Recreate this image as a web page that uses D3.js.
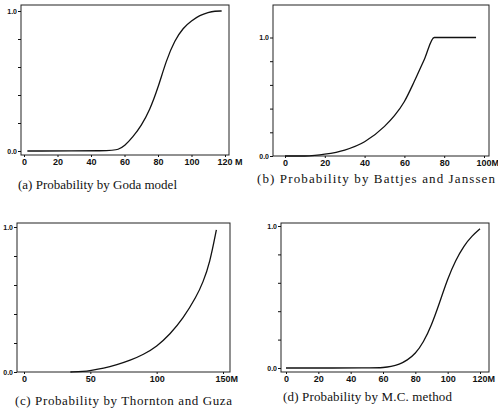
<!DOCTYPE html>
<html>
<head>
<meta charset="utf-8">
<script src="https://cdn.jsdelivr.net/npm/d3@7"></script>
<style>
  body { margin: 0; background: #fff; }
  svg { display: block; }
  .tick text { font-family: "Liberation Sans", Arial, sans-serif; font-weight: bold; fill: #111; }
  .tick line { stroke: #111; }
  .caption { font-family: "Liberation Serif", "Times New Roman", serif; font-size: 13px; fill: #111; }
</style>
</head>
<body>
<div id="chart"></div>
<script>

// (a) Goda model
var goda_h = [2, 53, 56, 60, 65, 70, 75, 80, 85, 90, 95, 100, 105, 110, 114, 118];
var goda_p = [0, 0, 0.01, 0.035, 0.1, 0.18, 0.29, 0.45, 0.65, 0.79, 0.88, 0.93, 0.97, 0.99, 1.0, 1.0];
var goda_ticks = [0, 20, 40, 60, 80, 100, 120];

// (b) Battjes and Janssen
var bj_h = [0, 10, 15, 20, 30, 40, 50, 55, 60, 65, 70, 75, 96];
var bj_p = [0, 0, 0.005, 0.015, 0.05, 0.12, 0.25, 0.34, 0.46, 0.63, 0.815, 1.0, 1.0];
var bj_ticks = [0, 20, 40, 60, 80, 100];

// (c) Thornton and Guza
var tg_h = [35, 45, 50, 60, 70, 80, 90, 100, 110, 120, 130, 135, 140, 145];
var tg_p = [0, 0.004, 0.01, 0.025, 0.05, 0.08, 0.12, 0.175, 0.26, 0.37, 0.52, 0.62, 0.75, 0.98];
var tg_ticks = [0, 50, 100, 150];

// (d) M.C. method
var mc_h = [0, 55, 60, 65, 70, 75, 80, 85, 90, 95, 100, 105, 110, 115, 120];
var mc_p = [0, 0, 0.003, 0.01, 0.025, 0.055, 0.1, 0.18, 0.3, 0.46, 0.63, 0.76, 0.86, 0.93, 0.98];
var mc_ticks = [0, 20, 40, 60, 80, 100, 120];

var prob_ticks = [0, 0.2, 0.4, 0.6, 0.8, 1.0];

var captions = [
  "(a) Probability by Goda model",
  "(b) Probability by Battjes and Janssen",
  "(c) Probability by Thornton and Guza",
  "(d) Probability by M.C. method"
];

var svg = d3.select("#chart").append("svg")
  .attr("width", 498)
  .attr("height", 412);

/**
 * One small probability panel: frame, axes, curve and caption
 */
var ProbPanel = function(box) {
  var self = this;
  self.box = box;

  self.x = d3.scaleLinear().domain(box.xdomain).range(box.xrange);
  self.y = d3.scaleLinear().domain([0, 1]).range(box.yrange);

  self.g = svg.append("g");
};

ProbPanel.prototype.add_frame = function() {
  var self = this, b = self.box;
  self.g.append("rect")
    .attr("x", b.left)
    .attr("y", b.top)
    .attr("width", b.right - b.left)
    .attr("height", b.bottom - b.top)
    .style("fill", "none")
    .style("stroke", "#222")
    .style("stroke-width", 1);
  return this;
};

ProbPanel.prototype.add_axes = function(ticks, unit) {
  var self = this, b = self.box;
  var last = ticks[ticks.length - 1];

  var xaxis = d3.axisBottom(self.x)
    .tickValues(ticks)
    .tickSize(2)
    .tickPadding(2)
    .tickFormat(function(d) { return d === last ? d + unit : d; });

  var gx = self.g.append("g")
    .attr("transform", "translate(0," + b.bottom + ")")
    .call(xaxis);
  gx.select(".domain").remove();
  gx.selectAll("text").style("font-size", "9px");
  //the last label hangs off to the right because of the unit
  gx.selectAll(".tick").filter(function(d) { return d === last; })
    .select("text").style("text-anchor", "start").attr("dx", -8);

  var yaxis = d3.axisLeft(self.y)
    .tickValues(prob_ticks)
    .tickSize(3)
    .tickPadding(1)
    .tickFormat(function(d) { return (d === 0 || d === 1) ? d3.format(".1f")(d) : ""; });

  var gy = self.g.append("g")
    .attr("transform", "translate(" + b.left + ",0)")
    .call(yaxis);
  gy.select(".domain").remove();
  gy.selectAll("text").style("font-size", "7px");

  return this;
};

ProbPanel.prototype.add_curve = function(hs, ps, curve) {
  var self = this;
  var pts = hs.map(function(h, i) { return [h, ps[i]]; });

  var line = d3.line()
    .x(function(d) { return self.x(d[0]); })
    .y(function(d) { return self.y(d[1]); })
    .curve(curve);

  self.g.append("path")
    .datum(pts)
    .attr("d", line)
    .style("fill", "none")
    .style("stroke", "#111")
    .style("stroke-width", 1.3);
  return this;
};

ProbPanel.prototype.add_caption = function(text) {
  var self = this, b = self.box;
  self.g.append("text")
    .attr("class", "caption")
    .attr("x", b.cap_x)
    .attr("y", b.cap_y)
    .attr("textLength", b.cap_w)
    .attr("lengthAdjust", "spacing")
    .text(text);
  return this;
};

//Layouts
var box_a = { left: 21, right: 229, top: 5, bottom: 155, xdomain: [0, 120], xrange: [24, 225], yrange: [151, 11], cap_x: 18, cap_y: 189, cap_w: 159 };
var box_b = { left: 273, right: 489, top: 5, bottom: 156, xdomain: [0, 100], xrange: [285, 484], yrange: [156, 37.5], cap_x: 257, cap_y: 183, cap_w: 238 };
var box_c = { left: 17, right: 230, top: 223, bottom: 372, xdomain: [0, 150], xrange: [24, 223], yrange: [372, 227], cap_x: 15, cap_y: 405, cap_w: 217 };
var box_d = { left: 281, right: 489, top: 223, bottom: 372, xdomain: [0, 120], xrange: [286, 480], yrange: [368, 226], cap_x: 283, cap_y: 401, cap_w: 169 };

new ProbPanel(box_a).add_frame().add_axes(goda_ticks, " M").add_curve(goda_h, goda_p, d3.curveBasis).add_caption(captions[0]);
new ProbPanel(box_b).add_frame().add_axes(bj_ticks, "M").add_curve(bj_h, bj_p, d3.curveMonotoneX).add_caption(captions[1]);
new ProbPanel(box_c).add_frame().add_axes(tg_ticks, "M").add_curve(tg_h, tg_p, d3.curveBasis).add_caption(captions[2]);
new ProbPanel(box_d).add_frame().add_axes(mc_ticks, "M").add_curve(mc_h, mc_p, d3.curveBasis).add_caption(captions[3]);

</script>
</body>
</html>
